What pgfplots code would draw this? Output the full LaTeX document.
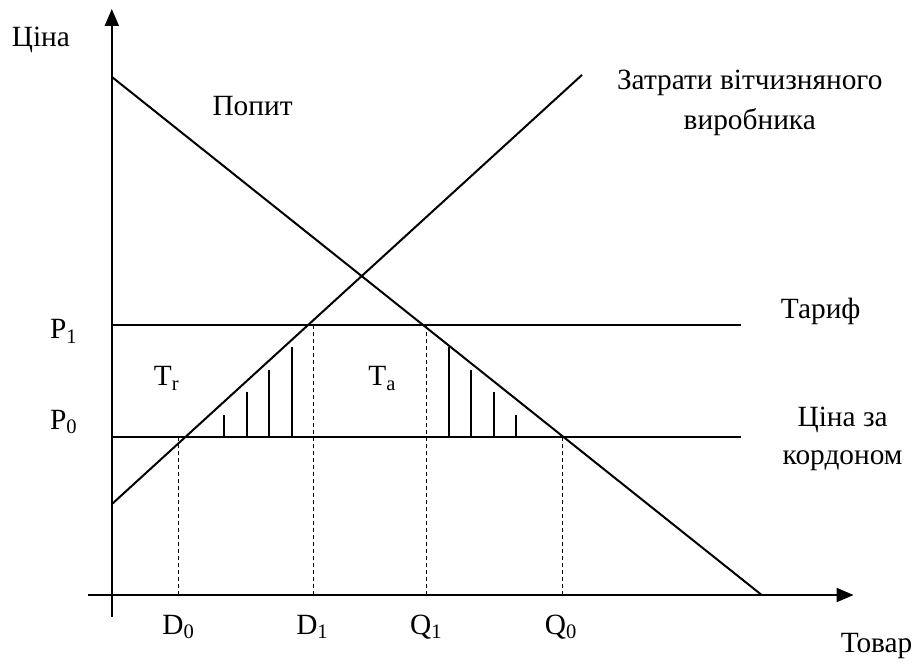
\documentclass[border=0pt]{standalone}
\usepackage{fontspec}
\setmainfont{Liberation Serif}
\usepackage{pgfplots}
\pgfplotsset{compat=1.18}
\usetikzlibrary{arrows.meta}
\begin{document}
\begin{tikzpicture}[font=\fontsize{14.7}{17}\selectfont]
\begin{axis}[
 scale only axis, width=383.5pt, height=304.5pt,
 xmin=-24, xmax=743, ymin=-22, ymax=587,
 axis lines=middle,
 axis line style={line width=1pt, -{Triangle[length=8.5pt,width=7pt]}},
 ticks=none, clip=false,
]
\path (axis cs:-112,-65) rectangle (axis cs:807,596);
% demand and supply
\addplot[black, line width=1pt] coordinates {(0,519) (651,0)};
\addplot[black, line width=1pt] coordinates {(0,91) (471,521)};
% tariff and world price
\addplot[black, line width=1pt] coordinates {(0,270) (630,270)};
\addplot[black, line width=1pt] coordinates {(0,158) (630,158)};
% dashed
\addplot[black, line width=0.5pt, dash pattern=on 2pt off 1.5pt] coordinates {(67,0) (67,158)};
\addplot[black, line width=0.5pt, dash pattern=on 2pt off 1.5pt] coordinates {(202,0) (202,270)};
\addplot[black, line width=0.5pt, dash pattern=on 2pt off 1.5pt] coordinates {(315,0) (315,270)};
\addplot[black, line width=0.5pt, dash pattern=on 2pt off 1.5pt] coordinates {(451,0) (451,158)};
% hatches left
\addplot[black, line width=1pt] coordinates {(112,158) (112,180)};
\addplot[black, line width=1pt] coordinates {(135,158) (135,203)};
\addplot[black, line width=1pt] coordinates {(157,158) (157,225)};
\addplot[black, line width=1pt] coordinates {(180,158) (180,248)};
% hatches right
\addplot[black, line width=1pt] coordinates {(338,158) (338,248)};
\addplot[black, line width=1pt] coordinates {(360,158) (360,225)};
\addplot[black, line width=1pt] coordinates {(383,158) (383,203)};
\addplot[black, line width=1pt] coordinates {(405,158) (405,180)};
% labels
\node at (axis cs:-71,556) {Ціна};
\node at (axis cs:141,490) {Попит};
\node at (axis cs:639,513) {Затрати вітчизняного};
\node at (axis cs:639,474) {виробника};
\node at (axis cs:710,284) {Тариф};
\node at (axis cs:732,175) {Ціна за};
\node at (axis cs:732,135) {кордоном};
\node at (axis cs:-48,264) {P\textsubscript{1}};
\node at (axis cs:-48,173) {P\textsubscript{0}};
\node at (axis cs:55,217) {T\textsubscript{r}};
\node at (axis cs:271,217) {T\textsubscript{a}};
\node at (axis cs:67,-32) {D\textsubscript{0}};
\node at (axis cs:201,-32) {D\textsubscript{1}};
\node at (axis cs:315,-32) {Q\textsubscript{1}};
\node at (axis cs:450,-32) {Q\textsubscript{0}};
\node at (axis cs:766,-51) {Товар};
\end{axis}
\end{tikzpicture}
\end{document}
